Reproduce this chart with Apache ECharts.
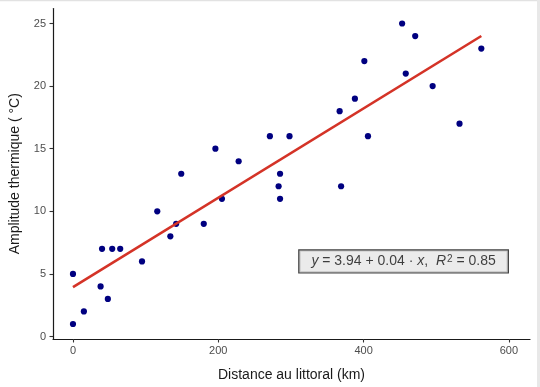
<!DOCTYPE html>
<html>
<head>
<meta charset="utf-8">
<script src="https://cdn.jsdelivr.net/npm/echarts@6/dist/echarts.min.js"></script>
<style>
html,body{margin:0;padding:0;background:#fff;}
#chart{width:540px;height:387px;}
</style>
</head>
<body>
<div id="chart"></div>
<script>
// Data
const distance = [0, 0, 15, 38, 40, 48, 54, 65, 95, 116, 134, 142, 149, 180, 196, 205, 228, 271, 283, 285, 285, 298, 367, 369, 388, 401, 406, 453, 458, 471, 495, 532, 562];
const amplitude = [5, 1, 2, 4, 7, 3, 7, 7, 6, 10, 8, 9, 13, 9, 15, 11, 14, 16, 12, 13, 11, 16, 18, 12, 19, 22, 16, 25, 21, 24, 20, 17, 23];
const xTicks = [0, 200, 400, 600];
const yTicks = [0, 5, 10, 15, 20, 25];
const fitIntercept = 3.94;
const fitSlope = 0.0357;
const labelPos = [455, 6];
const xName = 'Distance au littoral (km)';
const yName = 'Amplitude thermique ( °C)';

const points = distance.map((d, i) => [d, amplitude[i]]);
const xMin = Math.min(...distance), xMax = Math.max(...distance);
const fitLine = [[xMin, fitIntercept + fitSlope * xMin], [xMax, fitIntercept + fitSlope * xMax]];

const FONT = 'Liberation Sans, Arial, sans-serif';
const chart = echarts.init(document.getElementById('chart'), null, {renderer: 'canvas'});
function axisCfg(ticks, margin) {
  return {
    axisLine: {show: true, onZero: false, lineStyle: {color: '#1a1a1a', width: 1.2}},
    axisTick: {show: true, length: 3.5, customValues: ticks, lineStyle: {color: '#333', width: 1.1}},
    axisLabel: {customValues: ticks, color: '#4d4d4d', fontSize: 11, margin: margin, fontFamily: FONT},
    splitLine: {show: false},
    nameTextStyle: {color: '#1a1a1a', fontSize: 14, fontFamily: FONT},
    nameLocation: 'middle'
  };
}
chart.setOption({
  animation: false,
  backgroundColor: '#fff',
  grid: {left: 51, right: 10, top: 8.5, bottom: 45},
  xAxis: Object.assign(axisCfg(xTicks, 6), {
    type: 'value', min: -27.5, max: 629, name: xName, nameGap: 29
  }),
  yAxis: Object.assign(axisCfg(yTicks, 7), {
    type: 'value', min: -0.2, max: 26.2, name: yName, nameGap: 31, nameRotate: 90
  }),
  series: [
    {
      type: 'scatter', data: points, symbol: 'circle', symbolSize: 6.2,
      itemStyle: {color: '#000080', opacity: 1}, z: 2
    },
    {
      type: 'line', data: fitLine, showSymbol: false, symbol: 'none',
      lineStyle: {color: '#d43327', width: 2.6}, z: 3
    },
    {
      type: 'scatter', data: [labelPos], symbolSize: 0, z: 4,
      label: {
        show: true, position: 'inside',
        backgroundColor: '#e6e6e6', borderColor: '#111', borderWidth: 1.2,
        padding: [4, 12, 4, 12],
        fontFamily: FONT, fontSize: 14, color: '#111',
        formatter: '{i|y} = 3.94 + 0.04 · {i|x},  {i|R}{s|2} = 0.85',
        rich: {
          i: {fontStyle: 'italic', fontSize: 14, fontFamily: FONT, color: '#111'},
          s: {fontSize: 10, verticalAlign: 'top', lineHeight: 10, padding: [0, 0, 8, 1], fontFamily: FONT, color: '#111'}
        }
      }
    }
  ],
  graphic: [
    {type: 'rect', shape: {x: 0, y: 0, width: 540, height: 1.2}, style: {fill: '#e2e2e2'}, silent: true},
    {type: 'rect', shape: {x: 537, y: 0, width: 3, height: 387}, style: {fill: '#e8e8e8'}, silent: true}
  ]
});
</script>
</body>
</html>
